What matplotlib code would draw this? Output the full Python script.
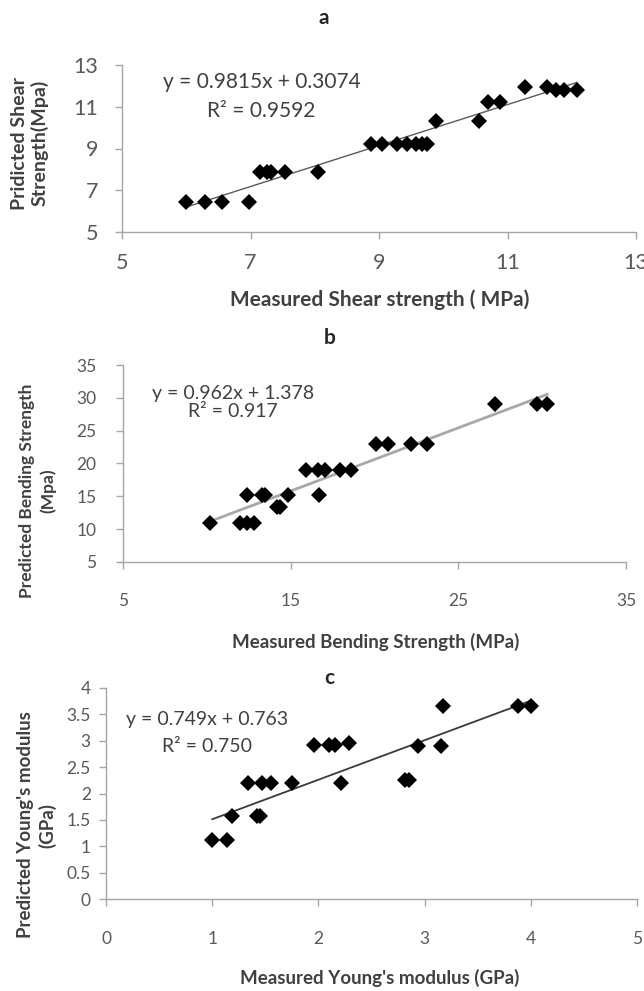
import matplotlib
matplotlib.use("Agg")
import matplotlib.pyplot as plt
import numpy as np

plt.rcParams['font.family'] = ['Lato', 'DejaVu Sans']

# panel a: shear strength
a_meas = [6.0, 6.29, 6.56, 6.97, 7.15, 7.25, 7.32, 7.53, 8.05, 8.87, 9.05, 9.28,
          9.44, 9.57, 9.67, 9.75, 9.89, 10.56, 10.69, 10.89, 11.27, 11.62, 11.75,
          11.88, 12.08]
a_pred = [6.43, 6.43, 6.43, 6.43, 7.89, 7.89, 7.89, 7.89, 7.89, 9.22, 9.22, 9.22,
          9.22, 9.22, 9.22, 9.22, 10.32, 10.32, 11.25, 11.25, 11.93, 11.93, 11.8,
          11.8, 11.8]
a_fit = (0.9815, 0.3074)

# panel b: bending strength
b_meas = [10.2, 12.0, 12.4, 12.8, 12.4, 13.27, 13.47, 14.16, 14.36, 14.86, 16.69,
          15.9, 16.65, 17.05, 17.94, 18.58, 20.09, 20.82, 22.15, 23.15, 27.18,
          29.67, 30.3]
b_pred = [11.0, 11.0, 11.0, 11.0, 15.27, 15.27, 15.27, 13.4, 13.4, 15.27, 15.2,
          19.07, 19.07, 19.07, 19.07, 19.07, 22.9, 22.9, 22.9, 22.9, 29.0, 29.0, 29.0]
b_fit = (0.962, 1.378)

# panel c: Young's modulus
c_meas = [1.0, 1.135, 1.19, 1.42, 1.45, 1.34, 1.47, 1.55, 1.75, 1.96, 2.10, 2.16,
          2.29, 2.21, 2.82, 2.85, 2.94, 3.15, 3.17, 3.88, 4.0]
c_pred = [1.12, 1.12, 1.58, 1.58, 1.58, 2.2, 2.2, 2.2, 2.2, 2.91, 2.91, 2.91,
          2.95, 2.2, 2.25, 2.25, 2.9, 2.9, 3.65, 3.65, 3.65]
c_fit = (0.749, 0.763)

W, H = 644, 991
fig = plt.figure(figsize=(W / 100, H / 100), dpi=100)


def box(l, t, r, b):
    # pixel box -> figure fraction rect
    return [l / W, 1 - b / H, (r - l) / W, (b - t) / H]


def fig_text(x, y, s, **kw):
    fig.text(x / W, 1 - y / H, s, ha='center', va='center', **kw)


def style(ax, xlim, ylim, xticks, yticks, tsize, xpad, ypad):
    ax.set_xlim(*xlim)
    ax.set_ylim(*ylim)
    ax.set_xticks(xticks)
    ax.set_yticks(yticks)
    for s in ['top', 'right']:
        ax.spines[s].set_visible(False)
    for s in ['left', 'bottom']:
        ax.spines[s].set_color('#a6a6a6')
        ax.spines[s].set_linewidth(1.0)
    ax.tick_params(axis='both', colors='#a6a6a6', length=5, width=1,
                   labelcolor='#595959', labelsize=tsize)
    ax.tick_params(axis='x', pad=xpad)
    ax.tick_params(axis='y', pad=ypad)
    for sp in ax.spines.values():
        sp.set_clip_on(False)


def panel(rect, mx, py, fit, line_kw, xlim, ylim, xticks, yticks, tsize, xpad, ypad):
    ax = fig.add_axes(rect)
    style(ax, xlim, ylim, xticks, yticks, tsize, xpad, ypad)
    xs = np.array([min(mx), max(mx)])
    ax.plot(xs, fit[0] * xs + fit[1], zorder=2, **line_kw)
    ax.plot(mx, py, 'D', color='black', ms=8.2, mew=0, zorder=3, clip_on=False)
    return ax


ax_a = panel(box(122, 65, 636, 232), a_meas, a_pred, a_fit,
             dict(color='#5a5a5a', lw=1.0), (5, 13), (5, 13),
             [5, 7, 9, 11, 13], [5, 7, 9, 11, 13], 15.5, 10, 12)
ax_b = panel(box(123, 365, 626, 562), b_meas, b_pred, b_fit,
             dict(color='#a8a8a8', lw=2.0), (5, 35), (5, 35),
             [5, 15, 25, 35], [5, 10, 15, 20, 25, 30, 35], 12.5, 17, 14)
ax_c = panel(box(106, 688, 637, 899), c_meas, c_pred, c_fit,
             dict(color='#3a3a3a', lw=1.3), (0, 5), (0, 4),
             [0, 1, 2, 3, 4, 5], [0, 0.5, 1, 1.5, 2, 2.5, 3, 3.5, 4], 12.5, 18, 6)
ax_c.set_yticklabels(['0', '0.5', '1', '1.5', '2', '2.5', '3', '3.5', '4'])

eq = dict(color='#404040')
fig_text(262, 82, 'y = 0.9815x + 0.3074', fontsize=15, **eq)
fig_text(261, 111, 'R² = 0.9592', fontsize=15, **eq)
fig_text(233, 393, 'y = 0.962x + 1.378', fontsize=14, **eq)
fig_text(233, 412, 'R² = 0.917', fontsize=14, **eq)
fig_text(207, 720, 'y = 0.749x + 0.763', fontsize=14, **eq)
fig_text(207, 747, 'R² = 0.750', fontsize=14, **eq)

ttl = dict(fontweight='bold', color='#262626', fontsize=15)
fig_text(324, 18, 'a', **ttl)
fig_text(330, 338, 'b', **ttl)
fig_text(329, 678, 'c', **ttl)

lab = dict(fontweight='bold', color='#404040')
fig_text(30, 143, 'Pridicted Shear\nStrength(Mpa)', rotation=90, fontsize=14,
         linespacing=1.15, **lab)
fig_text(380, 300, 'Measured Shear strength ( MPa)', fontsize=15, **lab)
fig_text(38, 491, 'Predicted Bending Strength\n(Mpa)', rotation=90, fontsize=12.5,
         linespacing=1.35, **lab)
fig_text(376, 642, 'Measured Bending Strength (MPa)', fontsize=13.5, **lab)
fig_text(37, 825, "Predicted Young's modulus\n(GPa)", rotation=90, fontsize=13.5,
         linespacing=1.3, **lab)
fig_text(380, 978, "Measured Young's modulus (GPa)", fontsize=13.5, **lab)

fig.savefig('out.png', dpi=100)
